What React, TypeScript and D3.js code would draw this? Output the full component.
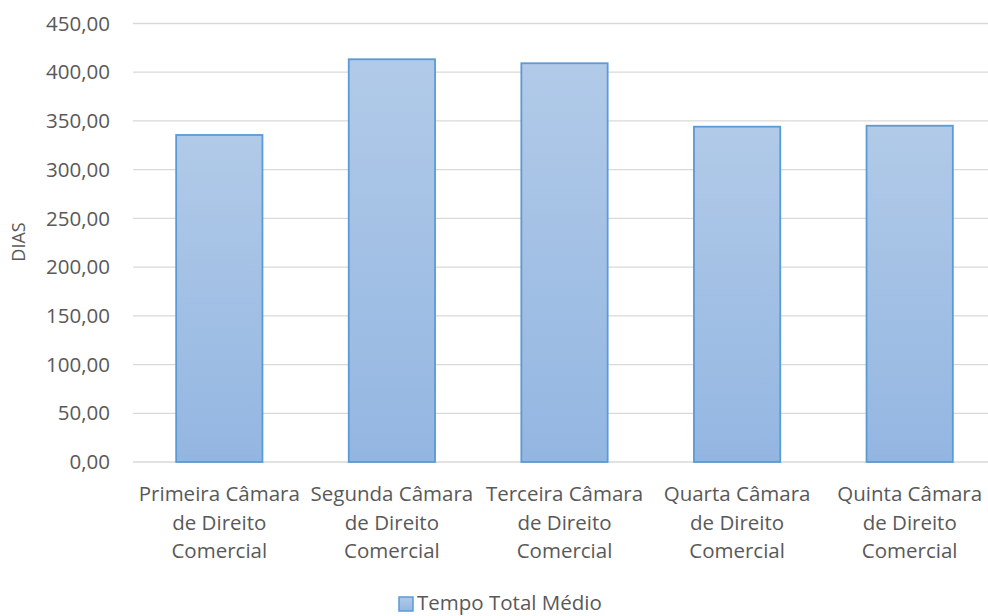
import React from "react";
import * as d3 from "d3";

const categories: string[][] = [
  ["Primeira Câmara", "de Direito", "Comercial"],
  ["Segunda Câmara", "de Direito", "Comercial"],
  ["Terceira Câmara", "de Direito", "Comercial"],
  ["Quarta Câmara", "de Direito", "Comercial"],
  ["Quinta Câmara", "de Direito", "Comercial"],
];
const values: number[] = [335.6, 413.3, 409.2, 344.1, 345.1];
const yTicks: number[] = [0, 50, 100, 150, 200, 250, 300, 350, 400, 450];
const seriesName = "Tempo Total Médio";
const yTitle = "DIAS";

const W = 988;
const H = 616;
const FONT = "'Open Sans', 'Noto Sans', sans-serif";
const TEXT = "#595959";

export default function App() {
  const keys = categories.map((c) => c.join(" "));
  const x = d3.scaleBand<string>().domain(keys).range([133, 996]).paddingInner(0.5).paddingOuter(0.25);
  const y = d3.scaleLinear().domain([0, 450]).range([462, 23.5]);
  const fmt = (v: number) => d3.format(".2f")(v).replace(".", ",");

  return (
    <svg width={W} height={H} style={{ position: "absolute", left: 0, top: 0, background: "#fff" }} fontFamily={FONT}>
      <defs>
        <linearGradient id="barGrad" x1="0" y1="0" x2="0" y2="1">
          <stop offset="0%" stopColor="#b1cae8" />
          <stop offset="100%" stopColor="#93b6e1" />
        </linearGradient>
      </defs>
      {yTicks.map((t) => (
        <g key={t}>
          <line x1={133} x2={W} y1={y(t)} y2={y(t)} stroke="#d9d9d9" strokeWidth={1.3} />
          <text x={110} y={y(t)} dy="0.35em" textAnchor="end" fontSize={20.5} fill={TEXT}>
            {fmt(t)}
          </text>
        </g>
      ))}
      {values.map((v, i) => (
        <rect
          key={i}
          x={x(keys[i])!}
          y={y(v)}
          width={x.bandwidth()}
          height={y(0) - y(v)}
          fill="url(#barGrad)"
          stroke="#5b9bd5"
          strokeWidth={1.8}
        />
      ))}
      {categories.map((lines, i) => (
        <text key={i} textAnchor="middle" fontSize={20.5} fill={TEXT}>
          {lines.map((l, j) => (
            <tspan key={j} x={x(keys[i])! + x.bandwidth() / 2} y={500.7 + j * 28.8}>
              {l}
            </tspan>
          ))}
        </text>
      ))}
      <text
        transform={`translate(24.5, 242) rotate(-90)`}
        textAnchor="middle"
        fontSize={18}
        fill={TEXT}
      >
        {yTitle}
      </text>
      <rect x={399} y={597} width={14} height={14} fill="url(#barGrad)" stroke="#5b9bd5" strokeWidth={1.5} />
      <text x={417} y={610} fontSize={20.5} fill={TEXT}>
        {seriesName}
      </text>
    </svg>
  );
}
